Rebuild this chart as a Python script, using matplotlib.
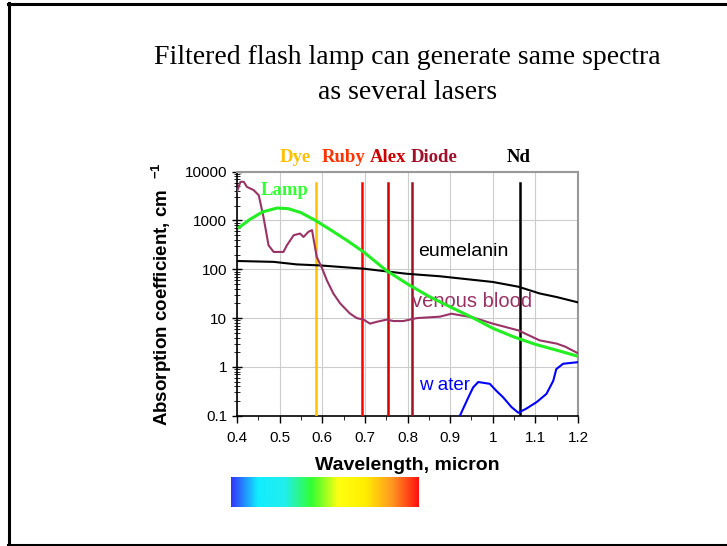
import matplotlib
matplotlib.use("Agg")
import matplotlib.pyplot as plt
import numpy as np
from matplotlib.colors import LinearSegmentedColormap
from matplotlib.lines import Line2D

plt.rcParams.update({
    "font.family": "Liberation Sans",
    "mathtext.fontset": "custom",
    "mathtext.rm": "Liberation Sans",
    "mathtext.bf": "Liberation Sans:bold",
})

# ---- data ----
lamp_x = [0.405, 0.43, 0.46, 0.494, 0.52, 0.55, 0.583, 0.62, 0.66, 0.697, 0.75,
          0.80, 0.85, 0.90, 0.95, 1.0, 1.05, 1.10, 1.15, 1.2]
lamp_y = [720, 1050, 1500, 1800, 1750, 1450, 1016, 640, 380, 227, 95,
          50, 28, 17, 10.5, 6.2, 4.1, 2.9, 2.2, 1.65]

blood_x = [0.40, 0.408, 0.416, 0.423, 0.439, 0.451, 0.462, 0.474, 0.486, 0.509,
           0.517, 0.533, 0.548, 0.556, 0.568, 0.576, 0.58, 0.587, 0.60, 0.611,
           0.626, 0.642, 0.665, 0.681, 0.697, 0.712, 0.728, 0.751, 0.767, 0.79,
           0.822, 0.876, 0.903, 0.954, 1.0, 1.06, 1.11, 1.15, 1.17, 1.2]
blood_y = [3900, 6200, 6200, 4900, 4200, 3300, 1190, 310, 227, 227,
           310, 500, 540, 460, 590, 635, 400, 180, 103, 59,
           32, 20, 12.4, 10, 9.3, 7.7, 8.4, 9.3, 8.7, 8.7,
           10, 10.7, 12.3, 10.3, 7.7, 5.6, 3.5, 3.0, 2.6, 1.9]

mel_x = [0.40, 0.486, 0.54, 0.595, 0.697, 0.798, 0.876, 1.0, 1.06, 1.11, 1.15, 1.2]
mel_y = [148, 142, 126, 120, 103, 81, 72, 55, 44, 32, 27, 21]

water_x = [0.923, 0.943, 0.954, 0.966, 0.993, 1.009, 1.024, 1.044, 1.06,
           1.079, 1.103, 1.126, 1.142, 1.149, 1.165, 1.2]
water_y = [0.1, 0.24, 0.38, 0.49, 0.45, 0.32, 0.24, 0.15, 0.115,
           0.14, 0.19, 0.28, 0.52, 0.9, 1.16, 1.25]

laser_names = ["Dye", "Ruby", "Alex", "Diode", "Nd"]
laser_wl = [0.585, 0.694, 0.755, 0.81, 1.064]
laser_label_x = [0.537, 0.649, 0.754, 0.862, 1.061]
laser_colors = ["#FFC000", "#FF0000", "#D00000", "#A0102A", "#000000"]
laser_text_colors = ["#FFC000", "#FF3300", "#CC0000", "#A0102A", "#000000"]
laser_top = 5800

spectrum_colors = ["#3333FF", "#11EEFF", "#22EEEE", "#33FF33", "#FFFF11",
                   "#FFEE00", "#FF9922", "#FF1111"]

# ---- figure ----
fig = plt.figure(figsize=(7.27, 5.46), dpi=100)

# slide border (top, left, bottom)
for xs, ys in [([8, 727], [542.5, 542.5]), ([8.5, 8.5], [2, 543]), ([8, 727], [1.5, 1.5])]:
    fig.add_artist(Line2D(np.array(xs) / 727, np.array(ys) / 546,
                          color="black", lw=2.2))

fig.text(0.56, 1 - 57 / 546, "Filtered flash lamp can generate same spectra",
         family="Liberation Serif", fontsize=20, ha="center", va="center")
fig.text(0.56, 1 - 92 / 546, "as several lasers",
         family="Liberation Serif", fontsize=20, ha="center", va="center")

ax = fig.add_axes([237 / 727, 1 - 415.7 / 546, 341 / 727, 244 / 546])
ax.set_yscale("log")
ax.set_xlim(0.4, 1.2)
ax.set_ylim(0.1, 10000)

ax.grid(True, which="major", color="#cccccc", lw=0.8)
ax.set_axisbelow(True)
for s in ["top", "right"]:
    ax.spines[s].set_color("#999999")
    ax.spines[s].set_linewidth(1.5)
for s in ["left", "bottom"]:
    ax.spines[s].set_linewidth(1.2)

ax.set_xticks(np.arange(0.4, 1.21, 0.1))
ax.set_xticks(np.arange(0.45, 1.2, 0.1), minor=True)
ax.set_xticklabels(["0.4", "0.5", "0.6", "0.7", "0.8", "0.9", "1", "1.1", "1.2"])
ax.set_yticks([0.1, 1, 10, 100, 1000, 10000])
ax.set_yticklabels(["0.1", "1", "10", "100", "1000", "10000"])
ax.tick_params(axis="both", which="major", labelsize=11, length=5, width=1)
ax.tick_params(axis="x", which="major", direction="out", pad=6)
ax.tick_params(axis="x", which="minor", direction="out", length=3)
ax.tick_params(axis="y", which="major", direction="inout", length=7)
ax.tick_params(axis="y", which="minor", direction="inout", length=4)
ax.yaxis.set_minor_formatter(plt.NullFormatter())

for wl, c in zip(laser_wl, laser_colors):
    ax.plot([wl, wl], [0.1, laser_top], color=c, lw=1.8, zorder=3)

ax.plot(mel_x, mel_y, color="black", lw=1.5, zorder=4)
ax.plot(blood_x, blood_y, color="#993366", lw=1.5, zorder=4)
ax.plot(water_x, water_y, color="#0000FF", lw=1.5, zorder=4)
ax.plot(lamp_x, lamp_y, color="#22EE22", lw=2.2, zorder=5)

for name, lx, tc in zip(laser_names, laser_label_x, laser_text_colors):
    ax.text(lx, 1.06, name, transform=ax.get_xaxis_transform(), color=tc,
            family="Liberation Serif", fontweight="bold", fontsize=13.5,
            ha="center", va="center")

ax.text(0.511, 4200, "Lamp", color="#33FF33", family="Liberation Serif",
        fontweight="bold", fontsize=13.5, ha="center", va="center")
ax.text(0.932, 235, "eumelanin", color="black", fontsize=14,
        ha="center", va="center")
ax.text(0.951, 21.4, "venous blood", color="#993366", fontsize=14.5,
        ha="center", va="center")
ax.text(0.888, 0.417, "w ater", color="#0000FF", fontsize=13.5,
        ha="center", va="center")

ax.set_ylabel("Absorption coefficient, cm  $^{\\mathbf{-1}}$", fontsize=13.5,
              fontweight="bold", labelpad=8)
ax.set_xlabel("Wavelength, micron", fontsize=14, fontweight="bold", labelpad=9)

# spectrum bar
cmap = LinearSegmentedColormap.from_list("spec", spectrum_colors)
bar = fig.add_axes([231 / 727, 1 - 507 / 546, 188 / 727, 30 / 546])
bar.imshow(np.linspace(0, 1, 256)[None, :], aspect="auto", cmap=cmap)
bar.set_axis_off()

fig.savefig("out.png", dpi=100)
